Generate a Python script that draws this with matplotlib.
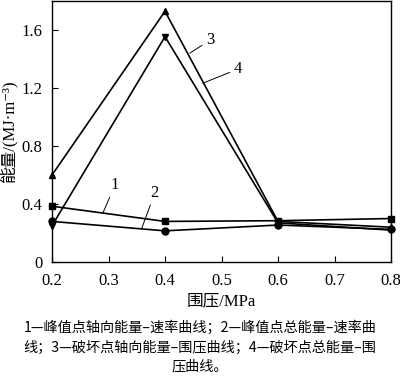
import matplotlib.pyplot as plt

plt.rcParams['font.family'] = ['Liberation Serif', 'Noto Sans CJK SC', 'DejaVu Serif']
plt.rcParams['axes.unicode_minus'] = False

pressure = [0.2, 0.4, 0.6, 0.8]
curve1 = [0.385, 0.28, 0.285, 0.30]   # squares
curve2 = [0.28, 0.215, 0.255, 0.225]  # circles
curve3 = [0.60, 1.73, 0.28, 0.24]     # up triangles
curve4 = [0.25, 1.555, 0.27, 0.22]    # down triangles
yticks = [0, 0.4, 0.8, 1.2, 1.6]
xticks = [0.2, 0.3, 0.4, 0.5, 0.6, 0.7, 0.8]

fig = plt.figure(figsize=(4, 3.79), dpi=100)
ax = fig.add_axes([0.13, 0.3087, 0.8475, 0.6883])

kw = dict(color='black', lw=1.2, ms=5, clip_on=False, zorder=3)
ax.plot(pressure, curve1, marker='s', **kw)
ax.plot(pressure, curve2, marker='o', **kw)
ax.plot(pressure, curve3, marker='^', **kw)
ax.plot(pressure, curve4, marker='v', **kw)

ax.set_xlim(0.2, 0.8)
ax.set_ylim(0, 1.8)
ax.set_xticks(xticks)
ax.set_xticklabels([str(v) for v in xticks])
ax.set_yticks(yticks)
ax.set_yticklabels(['0', '0.4', '0.8', '1.2', '1.6'])
ax.tick_params(direction='in', length=4, labelsize=12, width=0.8)
ax.tick_params(axis='x', pad=8)
ax.tick_params(axis='y', pad=7)
for s in ax.spines.values():
    s.set_linewidth(1.0)

ax.set_xlabel('围压/MPa', fontsize=12, labelpad=3)
ax.set_ylabel('能量/(MJ·m⁻³)', fontsize=12, labelpad=3)

# curve labels with leader lines
ann = dict(fontsize=12, arrowprops=dict(arrowstyle='-', lw=0.7, color='black', shrinkA=1, shrinkB=0))
ax.annotate('1', xy=(0.290, 0.338), xytext=(0.3115, 0.53), ha='center', va='center', **ann)
ax.annotate('2', xy=(0.359, 0.234), xytext=(0.382, 0.476), ha='center', va='center', **ann)
ax.annotate('3', xy=(0.444, 1.441), xytext=(0.4796, 1.531), ha='center', va='center', **ann)
ax.annotate('4', xy=(0.467, 1.234), xytext=(0.529, 1.331), ha='center', va='center', **ann)

caption = ('1—峰值点轴向能量–速率曲线；2—峰值点总能量–速率曲\n'
           '线；3—破坏点轴向能量–围压曲线；4—破坏点总能量–围\n'
           '压曲线。')
fig.text(0.5, 0.0844, caption, ha='center', va='center', fontsize=10.2,
         linespacing=1.45, family=['Noto Sans CJK SC', 'DejaVu Sans'])

fig.savefig('out.png', dpi=100)
